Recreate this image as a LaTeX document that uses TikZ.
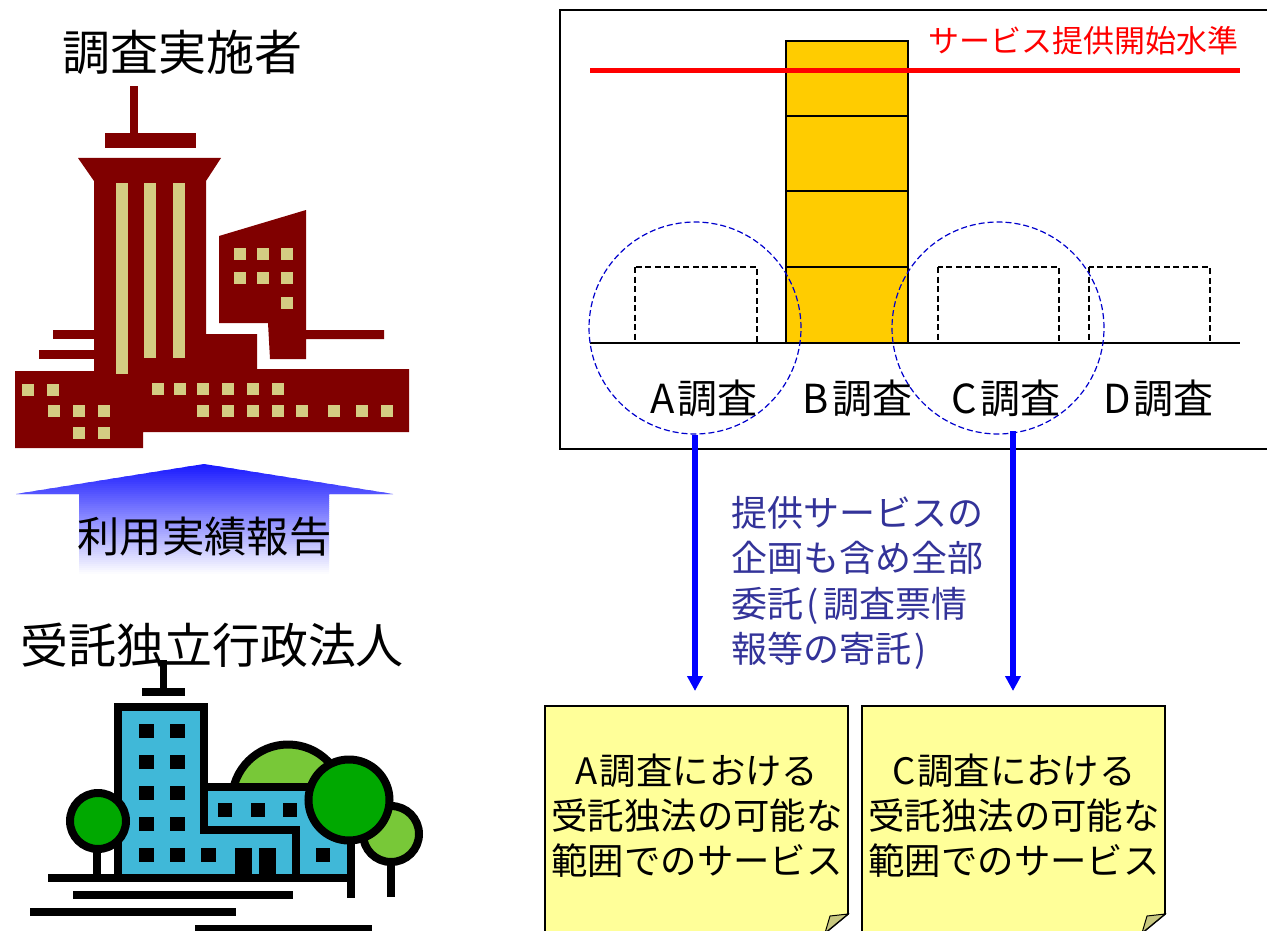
\documentclass[tikz,border=0pt]{standalone}
\usepackage{fontspec}
\usetikzlibrary{arrows.meta}
\newfontfamily\cjk{Noto Sans CJK JP}
\definecolor{maroon}{HTML}{800000}
\definecolor{khaki}{HTML}{D4CC82}
\definecolor{skyb}{HTML}{40B8D8}
\definecolor{leaf}{HTML}{78C838}
\definecolor{deepg}{HTML}{00A800}
\definecolor{gold}{HTML}{FFCC00}
\definecolor{notey}{HTML}{FFFF99}
\definecolor{foldc}{HTML}{C8C880}
\definecolor{noteblue}{HTML}{333399}
\definecolor{circblue}{HTML}{0000CC}
\newcommand{\txt}[2]{\fontsize{#1}{#2}\selectfont}
\newcommand{\pxrect}[4]{(#1,#2) rectangle ++(#3,#4)}
\tikzset{
  x=1pt,y=-1pt,
  every node/.style={font=\cjk,inner sep=0pt},
  title/.style={font=\cjk\txt{48}{48}},
  barlabel/.style={font=\cjk\txt{40}{40}},
  notetext/.style={font=\cjk\txt{36.4}{45},align=center},
  dashbox/.style={draw=black,dash pattern=on 6pt off 3.5pt,line width=1.2pt},
  goldbox/.style={draw=black,fill=gold,line width=1.2pt},
  zone/.style={draw=circblue,dash pattern=on 6pt off 3pt,line width=1.2pt,circle,minimum size=212pt},
  flow/.style={draw={rgb,255:red,0;green,0;blue,255},line width=5.5pt,-{Triangle[length=15pt,width=15pt]}},
  outl/.style={draw=black,line width=8pt},
  note/.style={draw=black,fill=notey,line width=1.8pt},
  flap/.style={draw=black,fill=foldc,line width=1pt},
}
\begin{document}
\begin{tikzpicture}
\clip (0,0) rectangle (1267,931);
% --- upper building ---
\fill[maroon] (130,86) rectangle (138,133);
\fill[maroon] (105,133) rectangle (196,148);
\fill[maroon] (78,158) -- (221,158) -- (206,181) -- (206,334) -- (257,334) -- (257,369) -- (409,369) -- (409,432) -- (143,432) -- (143,448) -- (15,448) -- (15,371) -- (94,371) -- (94,181) -- cycle;
\fill[maroon] (53,330) rectangle (94,339);
\fill[maroon] (39,350) rectangle (94,359);
\fill[maroon] (219,236) -- (306,210) -- (306,330) -- (384,330) -- (384,339) -- (306,339) -- (306,359) -- (270,359) -- (268,323) -- (219,323) -- cycle;
\fill[khaki] (116,183) rectangle (128,374);
\fill[khaki] (144,183) rectangle (156,358);
\fill[khaki] (173,183) rectangle (185,358);
\foreach \px/\py in {234/248,257/248,281/248,234/272,257/272,281/272,281/297,
  22/384,47/384,152/383,174/383,197/383,222/383,247/383,272/383,
  48/405,73/405,98/405,197/405,222/405,247/405,272/405,296/405,328/405,356/405,381/405,
  73/427,98/427}
  \fill[khaki] \pxrect{\px}{\py}{12}{12};
% --- report arrow ---
\begin{scope}
\clip (204,464) -- (393,494) -- (329,494) -- (329,582) -- (79,582) -- (79,494) -- (16,494) -- cycle;
\foreach \yy in {464,466,...,582}{
  \pgfmathtruncatemacro{\cv}{min(255,26+(\yy-464)*2.1)}
  \fill[color={rgb,255:red,\cv;green,\cv;blue,255}] (0,\yy) rectangle (420,\yy+2.6);
}
\end{scope}
% --- lower building ---
\fill[black] (160,660) rectangle (167,690);
\fill[black] (142,688) rectangle (185,696);
\draw[outl,fill=leaf] (288,800.5) circle (56);
\fill[skyb] (118,707) -- (204,707) -- (204,787) -- (351,787) -- (351,878) -- (118,878) -- cycle;
\draw[outl,line cap=butt] (48,878) -- (355,878);
\draw[outl] (118,878) -- (118,703);
\draw[outl,line join=miter] (114,707) -- (204,707) -- (204,830) -- (296,830) -- (296,878);
\draw[outl] (204,787) -- (320,787);
\draw[line width=7.5pt] (351,800) -- (351,898);
\draw[line width=7.5pt] (97,845) -- (97,878);
\draw[line width=7.5pt] (391,860) -- (391,897);
\foreach \px in {139,170}
  \foreach \py in {724,755,786,817,848}
    \fill[black] \pxrect{\px}{\py}{15}{14};
\fill[black] \pxrect{201}{848}{15}{14};
\foreach \px in {218,251,283}
  \fill[black] \pxrect{\px}{803}{14}{14};
\fill[black] \pxrect{316}{848}{14}{14};
\fill[black] (235,848) rectangle (252,878);
\fill[black] (259,848) rectangle (276,878);
\draw[outl,fill=leaf] (391,834) circle (28);
\draw[outl,fill=deepg] (349,800) circle (40.5);
\draw[outl,fill=deepg] (98,821) circle (28);
\fill[black] (73,891) rectangle (293,899);
\fill[black] (30,908) rectangle (236,916);
\fill[black] (195,925) rectangle (372,931);
% --- chart ---
\draw[line width=1.8pt] (560,10) rectangle (1275,449);
\draw[goldbox] (786,41) rectangle (908,116);
\draw[goldbox] (786,116) rectangle (908,191);
\draw[goldbox] (786,191) rectangle (908,267);
\draw[goldbox] (786,267) rectangle (908,343);
\draw[dashbox] (635,267) rectangle (757,343);
\draw[dashbox] (938,267) rectangle (1059,343);
\draw[dashbox] (1089,267) rectangle (1210,343);
\coordinate (baseL) at (590,343);
\coordinate (baseR) at (1240,343);
\coordinate (limL) at (590,71);
\coordinate (limR) at (1240,71);
\draw[line width=1.2pt] (baseL) -- (baseR);
\draw[red,line width=5pt] (limL) -- (limR);
\node[zone] (circA) at (695,328) {};
\node[zone] (circC) at (998,328) {};
\node[font=\cjk\txt{31}{31},text=red] (limit) at (1083,41) {サービス提供開始水準};
\node[barlabel] (la) at (704,398) {A\hspace{3pt}調査};
\node[barlabel] (lb) at (857.5,398) {B\hspace{3pt}調査};
\node[barlabel] (lc) at (1006,398) {C\hspace{3pt}調査};
\node[barlabel] (ld) at (1158.5,398) {D\hspace{3pt}調査};
% --- notes ---
\draw[note] (545,706) -- (848,706) -- (848,914) -- (825,933) -- (545,933) -- cycle;
\draw[flap] (848,914) -- (830,916) -- (825,933) -- cycle;
\draw[note] (862,706) -- (1165,706) -- (1165,914) -- (1142,933) -- (862,933) -- cycle;
\draw[flap] (1165,914) -- (1147,916) -- (1142,933) -- cycle;
\coordinate (endA) at (695,691);
\coordinate (startC) at (1013,431);
\coordinate (endC) at (1013,691);
\draw[flow] (circA.south) -- (endA);
\draw[flow] (startC) -- (endC);
\node[font=\cjk\txt{36}{45.5},align=left,text=noteblue,anchor=west] (mid) at (731,583) {提供サービスの\\企画も含め全部\\委託\hspace{3pt}(\hspace{5pt}調査票情\\報等の寄託\hspace{3pt})};
\node[notetext] (noteA) at (697,816) {A\hspace{2pt}調査における\\受託独法の可能な\\範囲でのサービス};
\node[notetext] (noteC) at (1014,816) {C\hspace{2pt}調査における\\受託独法の可能な\\範囲でのサービス};
% --- titles ---
\node[title] (t1) at (182,52) {調査実施者};
\node[font=\cjk\txt{42.3}{43}] (t2) at (204.5,537) {利用実績報告};
\node[title] (t3) at (212,645) {受託独立行政法人};
\end{tikzpicture}
\end{document}
